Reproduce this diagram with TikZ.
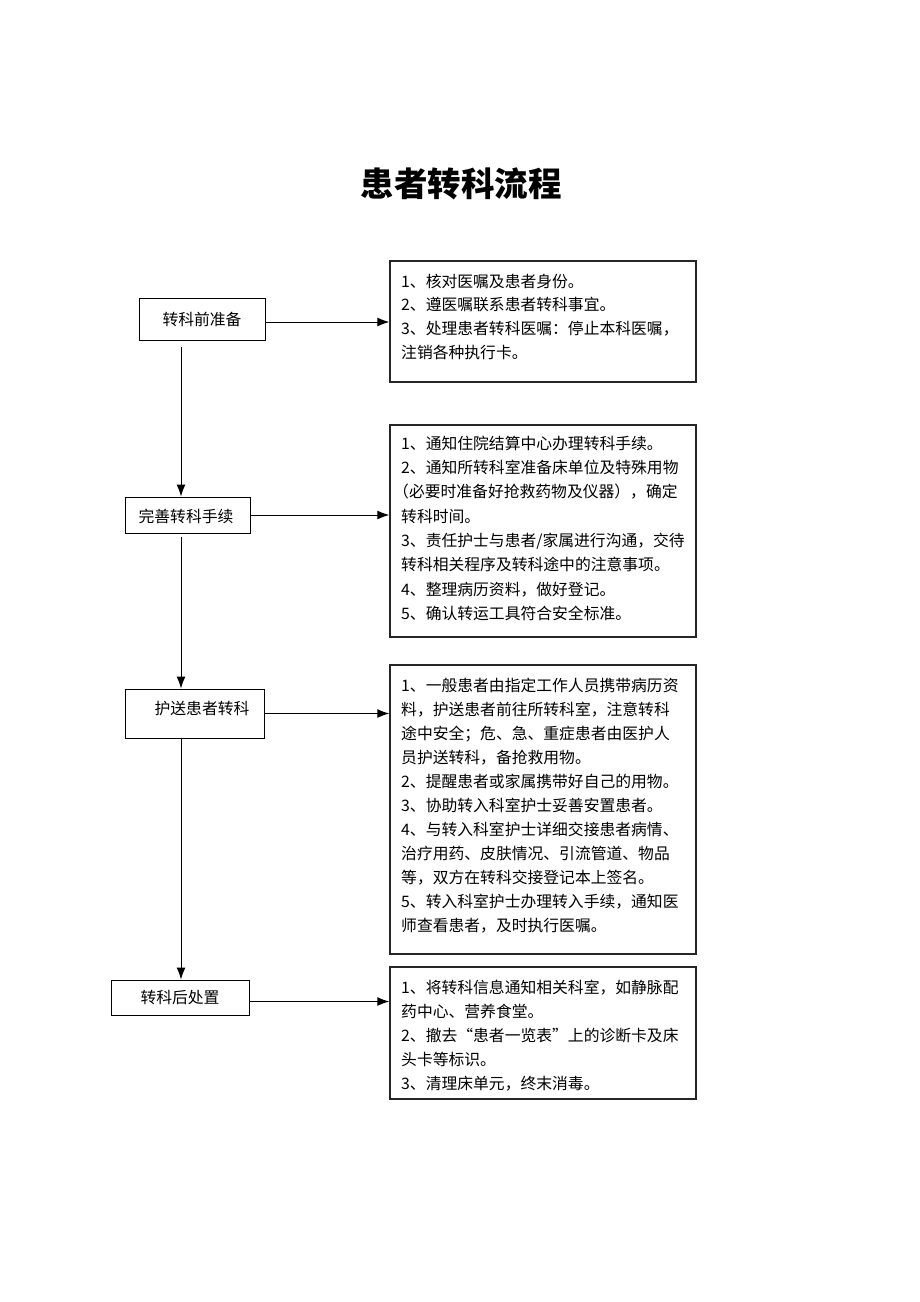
\documentclass[tikz,border=0pt]{standalone}
\usepackage{fontspec}
\setmainfont{Liberation Serif}
\newfontfamily\cjk{Noto Sans CJK SC}
\usetikzlibrary{arrows.meta}
\tikzset{
  stepbox/.style={draw=black, line width=0.9pt, inner sep=0pt},
  descbox/.style={draw=black!85, line width=1.4pt, inner sep=0pt},
  lbl/.style={inner sep=0pt, font=\cjk\fontsize{15.8}{18}\selectfont},
  ln/.style={inner sep=0pt, anchor=base west, font=\cjk\fontsize{15.8}{18}\selectfont},
  arr/.style={line width=1pt, -{Latex[length=12pt,width=9pt]}},
}
\newcommand{\rbox}[5]{\node[descbox, minimum width=#3pt-#1pt, minimum height=#4pt-#2pt] (#5) at ({(#1+#3)/2},{-(#2+#4)/2}) {};}
\newcommand{\lbox}[5]{\node[stepbox, minimum width=#3pt-#1pt, minimum height=#4pt-#2pt] (#5) at ({(#1+#3)/2},{-(#2+#4)/2}) {};}
\begin{document}
\begin{tikzpicture}[x=1pt,y=1pt]
\useasboundingbox (0,0) rectangle (920,-1302);
% title
\node[inner sep=0pt, anchor=base, font=\cjk\bfseries\fontsize{33.5}{36}\selectfont] (title) at (461,-196) {患者转科流程};
% left step boxes
\lbox{139}{298}{265}{340}{p1}
\lbox{125}{497}{250}{533}{p2}
\lbox{125}{689}{264}{738}{p3}
\lbox{111}{980}{249}{1015}{p4}
\node[lbl] (t1) at (202,-319) {转科前准备};
\node[lbl] (t2) at (186,-516) {完善转科手续};
\node[lbl] (t3) at (202,-708) {护送患者转科};
\node[lbl] (t4) at (180,-997) {转科后处置};
% right description boxes
\rbox{390}{261}{696}{382}{d1}
\rbox{390}{425}{696}{637}{d2}
\rbox{390}{665}{696}{954}{d3}
\rbox{390}{967}{696}{1099}{d4}
% box 1 text
\node[ln] (a1) at (401,-287) {1、核对医嘱及患者身份。};
\node[ln] (a2) at (401,-310) {2、遵医嘱联系患者转科事宜。};
\node[ln] (a3) at (401,-334) {3、处理患者转科医嘱：停止本科医嘱，};
\node[ln] (a4) at (401,-358) {注销各种执行卡。};
% box 2 text
\node[ln] (b1) at (401,-449) {1、通知住院结算中心办理转科手续。};
\node[ln] (b2) at (401,-473) {2、通知所转科室准备床单位及特殊用物};
\node[ln] (b3) at (393,-497) {（必要时准备好抢救药物及仪器），确定};
\node[ln] (b4) at (401,-522) {转科时间。};
\node[ln] (b5) at (401,-546) {3、责任护士与患者/家属进行沟通，交待};
\node[ln] (b6) at (401,-570) {转科相关程序及转科途中的注意事项。};
\node[ln] (b7) at (401,-595) {4、整理病历资料，做好登记。};
\node[ln] (b8) at (401,-619) {5、确认转运工具符合安全标准。};
% box 3 text
\node[ln] (c1) at (401,-691) {1、一般患者由指定工作人员携带病历资};
\node[ln] (c2) at (401,-715) {料，护送患者前往所转科室，注意转科};
\node[ln] (c3) at (401,-739) {途中安全；危、急、重症患者由医护人};
\node[ln] (c4) at (401,-763) {员护送转科，备抢救用物。};
\node[ln] (c5) at (401,-787) {2、提醒患者或家属携带好自己的用物。};
\node[ln] (c6) at (401,-811) {3、协助转入科室护士妥善安置患者。};
\node[ln] (c7) at (401,-835) {4、与转入科室护士详细交接患者病情、};
\node[ln] (c8) at (401,-859) {治疗用药、皮肤情况、引流管道、物品};
\node[ln] (c9) at (401,-883) {等，双方在转科交接登记本上签名。};
\node[ln] (c10) at (401,-907) {5、转入科室护士办理转入手续，通知医};
\node[ln] (c11) at (401,-931) {师查看患者，及时执行医嘱。};
% box 4 text
\node[ln] (e1) at (401,-993) {1、将转科信息通知相关科室，如静脉配};
\node[ln] (e2) at (401,-1017) {药中心、营养食堂。};
\node[ln] (e3) at (401,-1041) {2、撤去“患者一览表”上的诊断卡及床};
\node[ln] (e4) at (401,-1065) {头卡等标识。};
\node[ln] (e5) at (401,-1089) {3、清理床单元，终末消毒。};
% horizontal arrows
\draw[arr] ([yshift=-3pt]p1.east) -- ([yshift=-3pt]p1.east -| d1.west);
\draw[arr] (p2.east) -- (p2.east -| d2.west);
\draw[arr] (p3.east) -- (p3.east -| d3.west);
\draw[arr] ([yshift=-4pt]p4.east) -- ([yshift=-4pt]p4.east -| d4.west);
% vertical arrows
\coordinate (s1) at (181,-347);
\coordinate (s2) at (181,-537);
\coordinate (s3) at (181,-738);
\draw[arr] (s1) -- (s1 |- p2.north);
\draw[arr] (s2) -- (s2 |- p3.north);
\draw[arr] (s3) -- (s3 |- p4.north);
\end{tikzpicture}
\end{document}
